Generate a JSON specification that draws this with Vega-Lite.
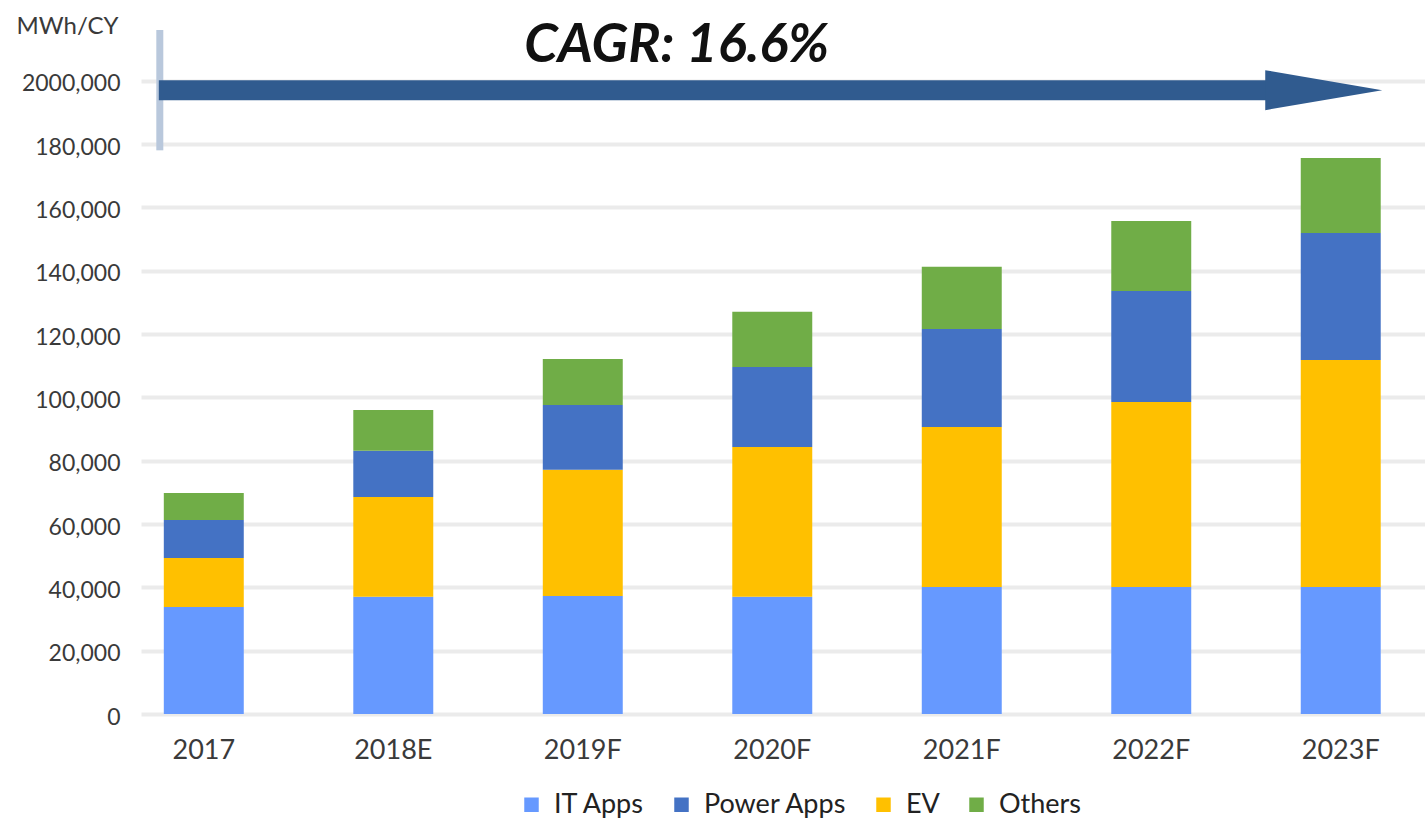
{
  "$schema": "https://vega.github.io/schema/vega-lite/v6.json",
  "autosize": {"type": "none"},
  "width": 1284,
  "height": 684,
  "padding": {"left": 141, "top": 30, "right": 0, "bottom": 105},
  "background": "white",
  "config": {
    "view": {"stroke": null},
    "font": "Lato",
    "axis": {"labelFont": "Lato", "titleFont": "Lato"},
    "legend": {"labelFont": "Lato"}
  },
  "layer": [
    {
      "data": {
        "values": [
          {"year": "2017", "segment": "IT Apps", "ord": 1, "value": 33800},
          {"year": "2017", "segment": "EV", "ord": 2, "value": 15500},
          {"year": "2017", "segment": "Power Apps", "ord": 3, "value": 12000},
          {"year": "2017", "segment": "Others", "ord": 4, "value": 8500},
          {"year": "2018E", "segment": "IT Apps", "ord": 1, "value": 37000},
          {"year": "2018E", "segment": "EV", "ord": 2, "value": 31500},
          {"year": "2018E", "segment": "Power Apps", "ord": 3, "value": 14600},
          {"year": "2018E", "segment": "Others", "ord": 4, "value": 12900},
          {"year": "2019F", "segment": "IT Apps", "ord": 1, "value": 37300},
          {"year": "2019F", "segment": "EV", "ord": 2, "value": 39800},
          {"year": "2019F", "segment": "Power Apps", "ord": 3, "value": 20500},
          {"year": "2019F", "segment": "Others", "ord": 4, "value": 14500},
          {"year": "2020F", "segment": "IT Apps", "ord": 1, "value": 37000},
          {"year": "2020F", "segment": "EV", "ord": 2, "value": 47300},
          {"year": "2020F", "segment": "Power Apps", "ord": 3, "value": 25300},
          {"year": "2020F", "segment": "Others", "ord": 4, "value": 17400},
          {"year": "2021F", "segment": "IT Apps", "ord": 1, "value": 40100},
          {"year": "2021F", "segment": "EV", "ord": 2, "value": 50500},
          {"year": "2021F", "segment": "Power Apps", "ord": 3, "value": 31000},
          {"year": "2021F", "segment": "Others", "ord": 4, "value": 19600},
          {"year": "2022F", "segment": "IT Apps", "ord": 1, "value": 40100},
          {"year": "2022F", "segment": "EV", "ord": 2, "value": 58400},
          {"year": "2022F", "segment": "Power Apps", "ord": 3, "value": 35100},
          {"year": "2022F", "segment": "Others", "ord": 4, "value": 22100},
          {"year": "2023F", "segment": "IT Apps", "ord": 1, "value": 40100},
          {"year": "2023F", "segment": "EV", "ord": 2, "value": 71700},
          {"year": "2023F", "segment": "Power Apps", "ord": 3, "value": 40100},
          {"year": "2023F", "segment": "Others", "ord": 4, "value": 23700}
        ]
      },
      "mark": {"type": "bar"},
      "encoding": {
        "x": {
          "field": "year",
          "type": "nominal",
          "sort": null,
          "scale": {"paddingInner": 0.578, "paddingOuter": 0.177, "align": 0.34},
          "axis": {
            "title": null,
            "labelAngle": 0,
            "domain": false,
            "ticks": false,
            "labelFontSize": 27,
            "labelColor": "#3a3a3a",
            "labelPadding": 23
          }
        },
        "y": {
          "field": "value",
          "type": "quantitative",
          "stack": "zero",
          "scale": {"domain": [0, 216000], "nice": false},
          "axis": {
            "values": [0, 20000, 40000, 60000, 80000, 100000, 120000, 140000, 160000, 180000, 200000],
            "labelExpr": "datum.value == 200000 ? '2000,000' : format(datum.value, ',')",
            "domain": false,
            "ticks": false,
            "grid": true,
            "gridColor": "#ebebeb",
            "gridWidth": 4,
            "labelFontSize": 23,
            "labelColor": "#3a3a3a",
            "labelPadding": 21,
            "labelBaseline": "middle",
            "labelOffset": 3,
            "title": "MWh/CY",
            "titleAngle": 0,
            "titleAlign": "left",
            "titleBaseline": "alphabetic",
            "titleX": -125,
            "titleY": 3,
            "titleFontSize": 24,
            "titleFontWeight": "normal",
            "titleColor": "#3a3a3a"
          }
        },
        "color": {
          "field": "segment",
          "type": "nominal",
          "scale": {
            "domain": ["IT Apps", "Power Apps", "EV", "Others"],
            "range": ["#6699FF", "#4472C4", "#FFC000", "#70AD47"]
          },
          "legend": {
            "title": null,
            "orient": "none",
            "direction": "horizontal",
            "legendX": 377,
            "legendY": 761,
            "symbolType": "square",
            "symbolSize": 210,
            "symbolStrokeWidth": 0,
            "labelFontSize": 27,
            "labelColor": "#222222",
            "labelOffset": 9,
            "columnPadding": 23
          }
        },
        "order": {"field": "ord", "type": "quantitative"}
      }
    },
    {
      "data": {"values": [{"part": "start bar"}]},
      "mark": {"type": "rule", "color": "#b9c8dc", "strokeWidth": 7, "xOffset": -4},
      "encoding": {
        "x": {"datum": "2017", "bandPosition": 0},
        "y": {"datum": 216000},
        "y2": {"datum": 178000}
      }
    },
    {
      "data": {"values": [{"part": "shaft"}]},
      "mark": {"type": "rule", "color": "#305b8f", "strokeWidth": 20, "xOffset": -5, "x2Offset": -60},
      "encoding": {
        "x": {"datum": "2017", "bandPosition": 0},
        "x2": {"datum": "2023F"},
        "y": {"datum": 197000}
      }
    },
    {
      "data": {"values": [{"part": "head"}]},
      "mark": {
        "type": "point",
        "filled": true,
        "shape": "M-1,-0.342L1,0L-1,0.342Z",
        "size": 13690,
        "color": "#305b8f",
        "opacity": 1,
        "strokeWidth": 0,
        "xOffset": -17
      },
      "encoding": {
        "x": {"datum": "2023F"},
        "y": {"datum": 197000}
      }
    },
    {
      "data": {"values": [{"label": "CAGR: 16.6%"}]},
      "mark": {
        "type": "text",
        "font": "Lato",
        "fontSize": 54,
        "fontStyle": "italic",
        "fontWeight": "bold",
        "color": "#111111",
        "align": "center",
        "baseline": "middle",
        "dx": 94
      },
      "encoding": {
        "x": {"datum": "2019F"},
        "y": {"datum": 211000},
        "text": {"field": "label"}
      }
    }
  ]
}
